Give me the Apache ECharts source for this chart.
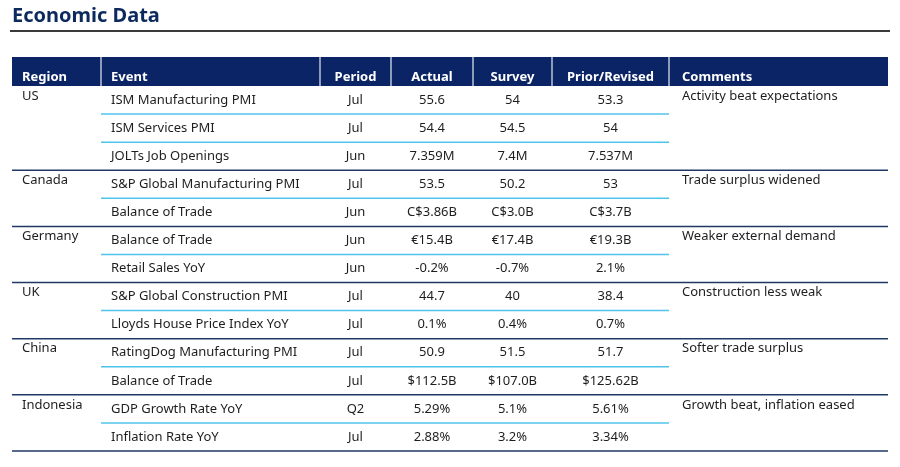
<!DOCTYPE html>
<html>
<head>
<meta charset="utf-8">
<script src="https://cdn.jsdelivr.net/npm/echarts@6/dist/echarts.min.js"></script>
<style>
html, body { margin: 0; padding: 0; background: #fff; }
#chartContainer { width: 900px; height: 467px; }
</style>
</head>
<body>
<div id="chartContainer"></div>
<script>
'use strict';
// table contents
const headers = ['Region', 'Event', 'Period', 'Actual', 'Survey', 'Prior/Revised', 'Comments'];
const regions = ['US', 'Canada', 'Germany', 'UK', 'China', 'Indonesia'];
const groupSizes = [3, 2, 2, 2, 2, 2];
const comments = ['Activity beat expectations', 'Trade surplus widened', 'Weaker external demand',
    'Construction less weak', 'Softer trade surplus', 'Growth beat, inflation eased'];
const events = ['ISM Manufacturing PMI', 'ISM Services PMI', 'JOLTs Job Openings',
    'S&P Global Manufacturing PMI', 'Balance of Trade',
    'Balance of Trade', 'Retail Sales YoY',
    'S&P Global Construction PMI', 'Lloyds House Price Index YoY',
    'RatingDog Manufacturing PMI', 'Balance of Trade',
    'GDP Growth Rate YoY', 'Inflation Rate YoY'];
const periods = ['Jul', 'Jul', 'Jun', 'Jul', 'Jun', 'Jun', 'Jun', 'Jul', 'Jul', 'Jul', 'Jul', 'Q2', 'Jul'];
const actual = ['55.6', '54.4', '7.359M', '53.5', 'C$3.86B', '€15.4B', '-0.2%', '44.7', '0.1%', '50.9', '$112.5B', '5.29%', '2.88%'];
const survey = ['54', '54.5', '7.4M', '50.2', 'C$3.0B', '€17.4B', '-0.7%', '40', '0.4%', '51.5', '$107.0B', '5.1%', '3.2%'];
const prior = ['53.3', '54', '7.537M', '53', 'C$3.7B', '€19.3B', '2.1%', '38.4', '0.7%', '51.7', '$125.62B', '5.61%', '3.34%'];

// layout
const colEdges = [12, 101, 320, 391, 473, 552, 669, 888];
const headTop = 57, headBottom = 86;
const NAVY = '#0b2466';
const LINE_NAVY = '#1f3864';
const LIGHT = '#4fc4ea';
const FONT = 'Noto Sans, Open Sans, sans-serif';

let initChart = (function() {
    let chartContainer = document.getElementById('chartContainer');
    let chart = echarts.init(chartContainer);

    // which group each row belongs to, and whether it opens / closes it
    let rowGroup = [], rowFirst = [], rowLast = [];
    groupSizes.forEach(function(n, g) {
        for (let i = 0; i < n; i++) {
            rowGroup.push(g);
            rowFirst.push(i === 0);
            rowLast.push(i === n - 1);
        }
    });

    function renderRow(params, api) {
        let idx = api.value(0);
        let mid = api.coord([0, idx])[1];
        let h = api.size([0, 1])[1];
        let top = mid - h / 2, bottom = mid + h / 2;
        let x = function(v) { return api.coord([v, idx])[0]; };
        let txt = function(s, px, align, py) {
            return {
                type: 'text',
                style: {
                    text: s, x: px, y: py === undefined ? mid : py,
                    textAlign: align, textVerticalAlign: 'middle',
                    fill: '#1e1e1e', font: '13px ' + FONT
                }
            };
        };
        let children = [
            txt(events[idx], x(colEdges[1]) + 10, 'left'),
            txt(periods[idx], (x(colEdges[2]) + x(colEdges[3])) / 2, 'center'),
            txt(actual[idx], (x(colEdges[3]) + x(colEdges[4])) / 2, 'center'),
            txt(survey[idx], (x(colEdges[4]) + x(colEdges[5])) / 2, 'center'),
            txt(prior[idx], (x(colEdges[5]) + x(colEdges[6])) / 2, 'center')
        ];
        if (rowFirst[idx]) {
            children.push(txt(regions[rowGroup[idx]], x(colEdges[0]) + 10, 'left', top + 10));
            children.push(txt(comments[rowGroup[idx]], x(colEdges[6]) + 13, 'left', top + 10));
        }
        if (rowLast[idx]) {
            children.push({
                type: 'line',
                shape: { x1: x(colEdges[0]), y1: bottom, x2: x(colEdges[7]), y2: bottom },
                style: { stroke: LINE_NAVY, lineWidth: 1.5 }
            });
        } else {
            children.push({
                type: 'line',
                shape: { x1: x(colEdges[1]), y1: bottom, x2: x(colEdges[6]), y2: bottom },
                style: { stroke: LIGHT, lineWidth: 1.5 }
            });
        }
        return { type: 'group', children: children };
    }

    // header band and title rule
    let graphics = [{
        type: 'line',
        shape: { x1: 10, y1: 31, x2: 890, y2: 31 },
        style: { stroke: '#3a3a3a', lineWidth: 2 }
    }, {
        type: 'rect',
        shape: { x: colEdges[0], y: headTop, width: colEdges[7] - colEdges[0], height: headBottom - headTop },
        style: { fill: NAVY }
    }];
    for (let i = 1; i < colEdges.length - 1; i++) {
        graphics.push({
            type: 'line',
            shape: { x1: colEdges[i], y1: headTop, x2: colEdges[i], y2: headBottom },
            style: { stroke: '#e8ecf5', lineWidth: 1.2 }
        });
    }
    headers.forEach(function(hd, i) {
        let left = (i === 0 || i === 1 || i === 6);
        graphics.push({
            type: 'text',
            style: {
                text: hd,
                x: left ? colEdges[i] + (i === 6 ? 13 : 10) : (colEdges[i] + colEdges[i + 1]) / 2,
                y: 77,
                textAlign: left ? 'left' : 'center',
                textVerticalAlign: 'middle',
                fill: '#fff',
                font: 'bold 13px ' + FONT
            }
        });
    });

    let option = {
        backgroundColor: '#fff',
        animation: false,
        title: {
            text: 'Economic Data',
            left: 7,
            top: 1,
            textStyle: {
                fontFamily: FONT,
                fontWeight: 'bold',
                fontSize: 20,
                color: '#0d2a5f'
            }
        },
        grid: { left: 0, right: 0, top: headBottom, bottom: 16 },
        xAxis: { type: 'value', min: 0, max: 900, show: false },
        yAxis: {
            type: 'category',
            inverse: true,
            data: events.map(function(e, i) { return i; }),
            show: false
        },
        graphic: graphics,
        series: [{
            type: 'custom',
            clip: false,
            renderItem: renderRow,
            encode: { y: 0 },
            data: events.map(function(e, i) { return [i]; })
        }]
    };

    chart.setOption(option);
})();
</script>
</body>
</html>
